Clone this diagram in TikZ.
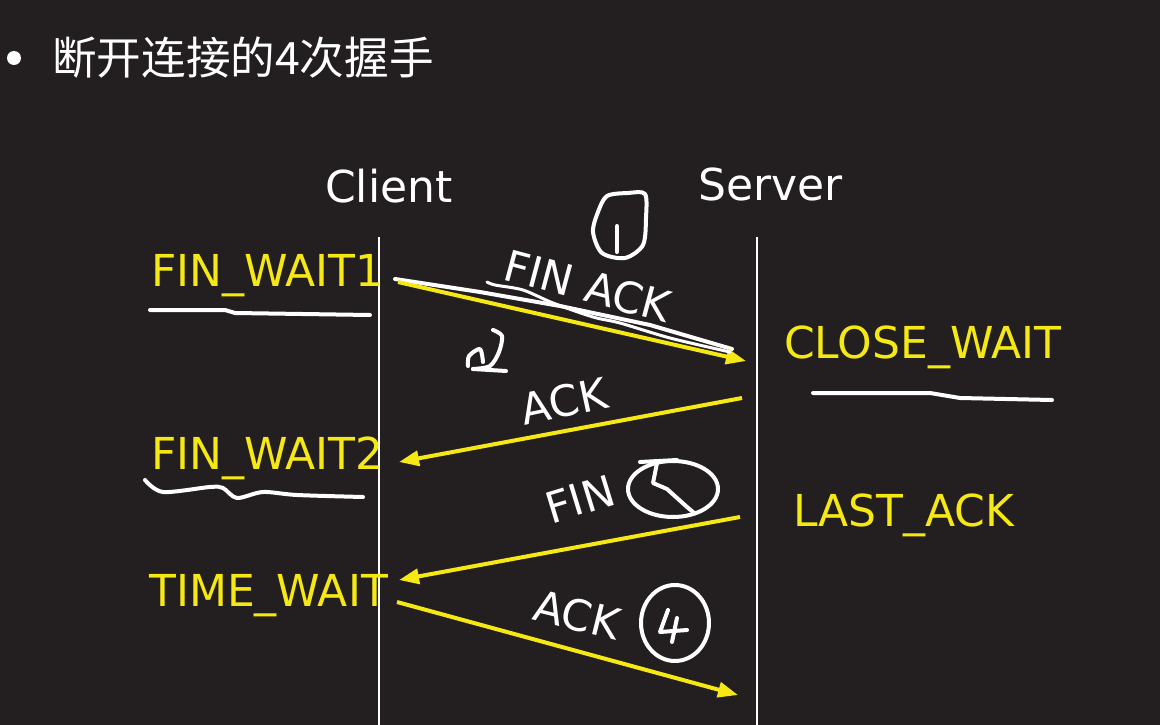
\documentclass[tikz,border=0pt]{standalone}
\usepackage{fontspec}
\setmainfont{DejaVu Sans}
\newfontfamily\cjk{Noto Sans CJK SC}
\usetikzlibrary{arrows.meta}
\definecolor{bg}{RGB}{35,31,32}
\definecolor{ylw}{RGB}{245,232,20}
\begin{document}
\begin{tikzpicture}[x=1pt,y=-1pt,
  lbl/.style={text=ylw, font=\fontsize{44}{50}\selectfont, inner sep=0pt},
  msg/.style={text=white, font=\fontsize{43}{50}\selectfont, inner sep=0pt},
  hdr/.style={text=white, font=\fontsize{44}{50}\selectfont, inner sep=0pt},
  sig/.style={draw=ylw, line width=4pt, -{Triangle[length=20pt,width=15pt]}},
  ink/.style={draw=white, line width=4pt, line cap=round, line join=round},
  life/.style={draw=white, line width=2pt}]
\fill[bg] (0,0) rectangle (1160,725);
\useasboundingbox (0,0) rectangle (1160,725);
% title
\fill[white] (14,58) circle (7);
\node[anchor=base west, text=white, font=\cjk\fontsize{44.6}{52}\selectfont, inner sep=0pt] (title) at (52,75) {断开连接的4次握手};
% headers
\node[hdr, anchor=base west] (client) at (325,202) {Client};
\node[hdr, anchor=base west] (server) at (698,200) {Server};
% lifelines
\coordinate (ctop) at (379,237); \coordinate (cbot) at (379,725);
\coordinate (stop) at (757,237); \coordinate (sbot) at (757,725);
\draw[life] (ctop) -- (cbot);
\draw[life] (stop) -- (sbot);
% states
\node[lbl, anchor=base west] (fw1) at (151,286) {FIN\_WAIT1};
\node[lbl, anchor=base west] (fw2) at (151,469) {FIN\_WAIT2};
\node[lbl, anchor=base west] (tw) at (149,606) {TIME\_WAIT};
\node[lbl, anchor=base west] (cw) at (784,358) {CLOSE\_WAIT};
\node[lbl, anchor=base west] (la) at (793,526) {LAST\_ACK};
% message endpoints
\coordinate (a1) at (398,282); \coordinate (b1) at (746,361);
\coordinate (a2) at (742,398); \coordinate (b2) at (399,462);
\coordinate (a3) at (740,517); \coordinate (b3) at (399,580);
\coordinate (a4) at (397,602); \coordinate (b4) at (738,695);
% ink over first arrow
\draw[ink] (395,279) -- (480,292) -- (560,306) -- (650,325) -- (732,349);
\draw[sig] (a1) -- (b1);
\draw[ink, line width=3pt] plot[smooth] coordinates {(487,282) (495,285) (523,290) (553,303) (593,317) (620,323) (670,338) (730,352)};
\draw[sig] (a2) -- (b2);
\draw[sig] (a3) -- (b3);
\draw[sig] (a4) -- (b4);
% message labels
\node[msg, rotate=-15] (m1) at (588,286) {FIN ACK};
\node[msg, rotate=12] (m2) at (564,401) {ACK};
\node[msg, rotate=17] (m3) at (580,499) {FIN};
\node[msg, rotate=-14] (m4) at (577,615) {ACK};
% handwritten underlines
\draw[ink] (150,310) -- (225,310) -- (235,313) -- (370,315);
\draw[ink] plot[smooth] coordinates {(145,480) (163,492) (210,487) (223,488) (237,498) (263,492) (297,495) (363,497)};
\draw[ink] (813,393) -- (930,393) -- (960,398) -- (1052,400);
% circled numbers
\draw[ink] plot[smooth cycle] coordinates {(607,196) (628,193) (645,194) (646,218) (643,245) (625,258) (602,253) (593,232) (598,212)};
\draw[ink] (617,226) -- (617,252);
\draw[ink] plot[smooth] coordinates {(493,330) (502,336) (499,352) (490,366) (473,369)};
\draw[ink] (473,369) -- (506,371);
\draw[ink] plot[smooth] coordinates {(483,362) (480,349) (469,356) (468,366)};
\draw[ink] (673,489) ellipse (45 and 28);
\draw[ink] (640,462) -- (677,460);
\draw[ink] (657,463) -- (653,483) -- (667,489) -- (687,507) -- (693,512);
\draw[ink] (675,623) ellipse (34 and 38);
\draw[ink] (668,610) -- (660,632) -- (687,630);
\draw[ink] (677,618) -- (672,642);
\end{tikzpicture}
\end{document}
